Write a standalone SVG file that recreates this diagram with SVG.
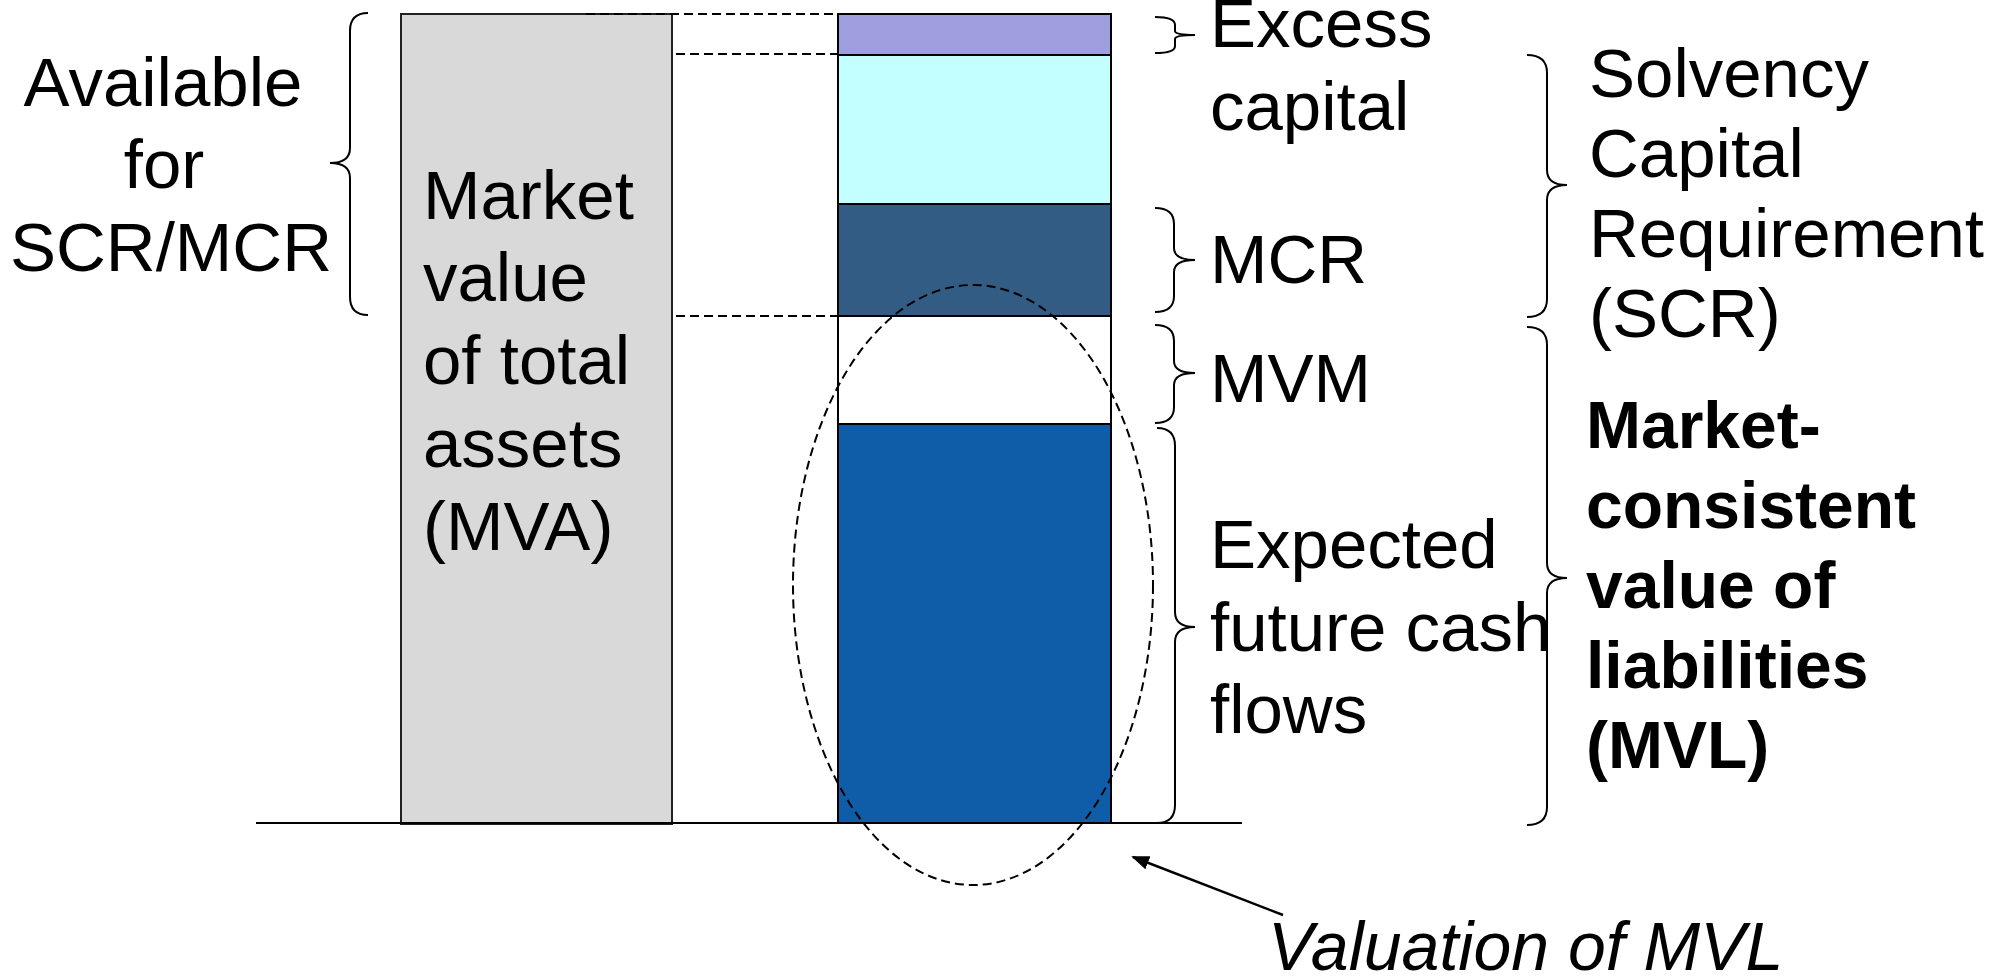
<svg xmlns="http://www.w3.org/2000/svg" width="1997" height="976" viewBox="0 0 1997 976">
  <defs>
    <marker id="arrowhead" markerWidth="18" markerHeight="14" refX="16" refY="7" orient="auto" markerUnits="userSpaceOnUse">
      <path d="M0,0 L18,7 L0,14 z" fill="#000"/>
    </marker>
  </defs>
  <style>
    .lbl { font-family: "Liberation Sans", Arial, sans-serif; font-size: 69px; fill: #000; }
    .bold { font-weight: bold; font-size: 66px; }
    .ital { font-style: italic; font-size: 68px; }
    .brace { fill: none; stroke: #000; stroke-width: 2; }
    .dash { fill: none; stroke: #000; stroke-width: 2; stroke-dasharray: 9 5; }
    .seg { stroke: #000; stroke-width: 2; }
  </style>
  <rect width="1997" height="976" fill="#fff"/>

  <!-- assets column -->
  <g id="assets">
    <rect x="401" y="14" width="271" height="810" fill="#d9d9d9" stroke="#222" stroke-width="2"/>
    <text class="lbl" x="423"><tspan x="423" y="219">Market</tspan><tspan x="423" y="301">value</tspan><tspan x="423" y="384">of total</tspan><tspan x="423" y="467">assets</tspan><tspan x="423" y="550">(MVA)</tspan></text>
  </g>

  <!-- liabilities / capital stack -->
  <g id="stack">
    <rect id="excess-capital" class="seg" x="838" y="14" width="273" height="41" fill="#9f9fdf"/>
    <rect id="scr-part" class="seg" x="838" y="55" width="273" height="149" fill="#c4ffff"/>
    <rect id="mcr" class="seg" x="838" y="204" width="273" height="112" fill="#335c85"/>
    <rect id="mvm" class="seg" x="838" y="316" width="273" height="108" fill="#ffffff"/>
    <rect id="cash-flows" class="seg" x="838" y="424" width="273" height="399" fill="#0f5ca8"/>
  </g>

  <!-- ground line, guide lines, valuation outline and arrow -->
  <g id="connectors">
    <line x1="256" y1="823" x2="1242" y2="823" stroke="#000" stroke-width="2"/>
    <line class="dash" x1="586" y1="14" x2="838" y2="14"/>
    <line class="dash" x1="676" y1="54" x2="838" y2="54"/>
    <line class="dash" x1="676" y1="316" x2="838" y2="316"/>
    <ellipse class="dash" cx="973" cy="585" rx="180" ry="300" stroke-width="1.8" stroke-dasharray="11 7"/>
    <line x1="1283" y1="915" x2="1133" y2="857" stroke="#000" stroke-width="2.5" marker-end="url(#arrowhead)"/>
  </g>

  <!-- braces -->
  <g id="braces">
    <path class="brace" d="M368,13 Q350,13 350,31 L350,148 Q350,163 330,163 Q350,163 350,178 L350,297 Q350,315 368,315"/>
    <path class="brace" d="M1155,17 Q1175,17 1175,25 L1175,31 Q1175,35 1195,35 Q1175,35 1175,39 L1175,46 Q1175,53 1155,53"/>
    <path class="brace" d="M1155,208 Q1174,208 1174,224 L1174,248 Q1174,260 1195,260 Q1174,260 1174,272 L1174,296 Q1174,312 1155,312"/>
    <path class="brace" d="M1155,325 Q1174,325 1174,341 L1174,361 Q1174,373 1195,373 Q1174,373 1174,385 L1174,407 Q1174,423 1155,423"/>
    <path class="brace" d="M1157,428 Q1175,428 1175,446 L1175,612 Q1175,627 1195,627 Q1175,627 1175,642 L1175,805 Q1175,823 1157,823"/>
    <path class="brace" d="M1527,55 Q1547,55 1547,73 L1547,170 Q1547,185 1567,185 Q1547,185 1547,200 L1547,299 Q1547,317 1527,317"/>
    <path class="brace" d="M1527,327 Q1547,327 1547,345 L1547,563 Q1547,578 1567,578 Q1547,578 1547,593 L1547,807 Q1547,825 1527,825"/>
  </g>

  <!-- labels -->
  <g id="label-available">
    <text class="lbl" text-anchor="middle"><tspan x="163" y="106">Available</tspan><tspan x="164" y="188">for</tspan><tspan x="171" y="271">SCR/MCR</tspan></text>
  </g>
  <g id="label-excess">
    <text class="lbl"><tspan x="1210" y="47">Excess</tspan><tspan x="1210" y="130">capital</tspan></text>
  </g>
  <g id="label-mcr">
    <text class="lbl" x="1210" y="283">MCR</text>
  </g>
  <g id="label-mvm">
    <text class="lbl" x="1210" y="402">MVM</text>
  </g>
  <g id="label-cash-flows">
    <text class="lbl"><tspan x="1210" y="568">Expected</tspan><tspan x="1210" y="651">future cash</tspan><tspan x="1210" y="733">flows</tspan></text>
  </g>
  <g id="label-scr">
    <text class="lbl"><tspan x="1589" y="97">Solvency</tspan><tspan x="1589" y="177">Capital</tspan><tspan x="1589" y="257">Requirement</tspan><tspan x="1589" y="337">(SCR)</tspan></text>
  </g>
  <g id="label-mvl">
    <text class="lbl bold"><tspan x="1586" y="448">Market-</tspan><tspan x="1586" y="528">consistent</tspan><tspan x="1586" y="608">value of</tspan><tspan x="1586" y="688">liabilities</tspan><tspan x="1586" y="768">(MVL)</tspan></text>
  </g>
  <g id="label-valuation">
    <text class="lbl ital" x="1268" y="970">Valuation of MVL</text>
  </g>
</svg>
